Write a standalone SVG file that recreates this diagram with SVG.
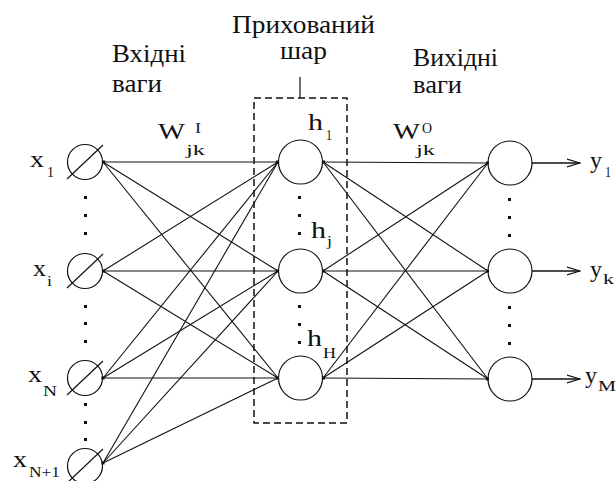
<svg xmlns="http://www.w3.org/2000/svg" width="616" height="481" viewBox="0 0 616 481" font-family="Liberation Serif, Times New Roman, serif">
  <style>
    .bg { fill: #ffffff; }
    .node { fill: none; stroke: #111; stroke-width: 1.2; }
    .slash { stroke: #111; stroke-width: 1.2; }
    .edge { stroke: #111; stroke-width: 1.1; fill: none; }
    .arrow { stroke: #111; stroke-width: 1.3; fill: none; }
    .box { fill: none; stroke: #111; stroke-width: 1.5; stroke-dasharray: 7 4; }
    .dot { fill: #111; }
    .t { fill: #111; }
    .word { font-size: 25px; }
    .lab { font-size: 23px; }
    .sub { font-size: 15px; }
  </style>
  <defs>
    <marker id="head" viewBox="0 0 14 10" refX="13" refY="5" markerWidth="14" markerHeight="10" markerUnits="userSpaceOnUse" orient="auto">
      <path d="M0,1 L13,5 L0,9" fill="none" stroke="#111" stroke-width="1.3"/>
    </marker>
  </defs>
  <rect class="bg" width="616" height="481"/>

  <!-- headings -->
  <g id="headings">
    <text class="t word" x="112" y="62" textLength="74" lengthAdjust="spacingAndGlyphs">Вхідні</text>
    <text class="t word" x="112" y="92" textLength="50" lengthAdjust="spacingAndGlyphs">ваги</text>
    <text class="t word" x="232" y="33" textLength="143" lengthAdjust="spacingAndGlyphs">Прихований</text>
    <text class="t word" x="280" y="59" textLength="47" lengthAdjust="spacingAndGlyphs">шар</text>
    <text class="t word" x="413" y="66" textLength="85" lengthAdjust="spacingAndGlyphs">Вихідні</text>
    <text class="t word" x="413" y="93" textLength="49" lengthAdjust="spacingAndGlyphs">ваги</text>
  </g>

  <!-- hidden layer frame -->
  <g id="hidden-layer">
    <rect class="box" x="254" y="98" width="93" height="325"/>
    <line class="slash" x1="300" y1="77" x2="300" y2="98"/>
  </g>

  <!-- weighted connections -->
  <g id="connectors">
    <!-- input to hidden -->
    <line class="edge" x1="103" y1="162" x2="278" y2="162"/>
    <line class="edge" x1="103" y1="162" x2="278" y2="271"/>
    <line class="edge" x1="103" y1="162" x2="278" y2="378"/>
    <line class="edge" x1="103" y1="271" x2="278" y2="162"/>
    <line class="edge" x1="103" y1="271" x2="278" y2="271"/>
    <line class="edge" x1="103" y1="271" x2="278" y2="378"/>
    <line class="edge" x1="103" y1="378" x2="278" y2="162"/>
    <line class="edge" x1="103" y1="378" x2="278" y2="271"/>
    <line class="edge" x1="103" y1="378" x2="278" y2="378"/>
    <line class="edge" x1="103" y1="463" x2="278" y2="162"/>
    <line class="edge" x1="103" y1="463" x2="278" y2="271"/>
    <line class="edge" x1="103" y1="463" x2="278" y2="378"/>
    <!-- hidden to output -->
    <line class="edge" x1="323" y1="162" x2="488" y2="163"/>
    <line class="edge" x1="323" y1="162" x2="488" y2="271"/>
    <line class="edge" x1="323" y1="162" x2="488" y2="379"/>
    <line class="edge" x1="323" y1="271" x2="488" y2="163"/>
    <line class="edge" x1="323" y1="271" x2="488" y2="271"/>
    <line class="edge" x1="323" y1="271" x2="488" y2="379"/>
    <line class="edge" x1="323" y1="378" x2="488" y2="163"/>
    <line class="edge" x1="323" y1="378" x2="488" y2="271"/>
    <line class="edge" x1="323" y1="378" x2="488" y2="379"/>
    <!-- outputs -->
    <line class="arrow" x1="532" y1="163" x2="580" y2="163" marker-end="url(#head)"/>
    <line class="arrow" x1="532" y1="271" x2="580" y2="271" marker-end="url(#head)"/>
    <line class="arrow" x1="532" y1="379" x2="580" y2="379" marker-end="url(#head)"/>
    <!-- junction points -->
    <rect class="dot" x="102" y="160.5" width="3" height="3"/>
    <rect class="dot" x="102" y="269.5" width="3" height="3"/>
    <rect class="dot" x="101.5" y="376.5" width="3" height="3"/>
    <rect class="dot" x="101.5" y="461.5" width="3" height="3"/>
    <rect class="dot" x="276" y="160.5" width="3" height="3"/>
    <rect class="dot" x="276" y="269.5" width="3" height="3"/>
    <rect class="dot" x="276" y="376.5" width="3" height="3"/>
    <rect class="dot" x="322" y="160.5" width="3" height="3"/>
    <rect class="dot" x="322" y="269.5" width="3" height="3"/>
    <rect class="dot" x="322" y="376.5" width="3" height="3"/>
    <rect class="dot" x="486" y="161.5" width="3" height="3"/>
    <rect class="dot" x="486" y="269.5" width="3" height="3"/>
    <rect class="dot" x="486" y="377.5" width="3" height="3"/>
  </g>

  <!-- weight labels -->
  <g id="weights-in">
    <text class="t lab" x="158" y="139" textLength="27" lengthAdjust="spacingAndGlyphs">W</text>
    <text class="t sub" x="195" y="133" textLength="6" lengthAdjust="spacingAndGlyphs">I</text>
    <text class="t sub" x="186" y="155" textLength="19" lengthAdjust="spacingAndGlyphs">jk</text>
  </g>
  <g id="weights-out">
    <text class="t lab" x="393" y="139" textLength="27" lengthAdjust="spacingAndGlyphs">W</text>
    <text class="t sub" x="422" y="133" textLength="10" lengthAdjust="spacingAndGlyphs">O</text>
    <text class="t sub" x="416" y="155" textLength="19" lengthAdjust="spacingAndGlyphs">jk</text>
  </g>

  <!-- input neurons -->
  <g id="x1">
    <circle class="node" cx="85" cy="162" r="17.5"/>
    <line class="slash" x1="67" y1="179" x2="103" y2="145"/>
    <text class="t lab" x="30" y="167" textLength="14" lengthAdjust="spacingAndGlyphs">x</text>
    <text class="t sub" x="47" y="177" textLength="7" lengthAdjust="spacingAndGlyphs">1</text>
  </g>
  <g id="xi">
    <circle class="node" cx="85" cy="271" r="17.5"/>
    <line class="slash" x1="67" y1="288" x2="103" y2="254"/>
    <text class="t lab" x="33" y="276" textLength="13" lengthAdjust="spacingAndGlyphs">x</text>
    <text class="t sub" x="47" y="286" textLength="5" lengthAdjust="spacingAndGlyphs">i</text>
  </g>
  <g id="xN">
    <circle class="node" cx="85" cy="378" r="17.5"/>
    <line class="slash" x1="67" y1="395" x2="103" y2="361"/>
    <text class="t lab" x="28" y="382" textLength="14" lengthAdjust="spacingAndGlyphs">x</text>
    <text class="t sub" x="43" y="396" textLength="14" lengthAdjust="spacingAndGlyphs">N</text>
  </g>
  <g id="xN1">
    <circle class="node" cx="85" cy="466" r="17.5"/>
    <line class="slash" x1="67" y1="483" x2="103" y2="449"/>
    <text class="t lab" x="13" y="467" textLength="14" lengthAdjust="spacingAndGlyphs">x</text>
    <text class="t sub" x="29" y="477" textLength="31" lengthAdjust="spacingAndGlyphs">N+1</text>
  </g>
  <g id="input-dots">
    <rect class="dot" x="84" y="196" width="3" height="3"/>
    <rect class="dot" x="84" y="214" width="3" height="3"/>
    <rect class="dot" x="84" y="232" width="3" height="3"/>
    <rect class="dot" x="84" y="305" width="3" height="3"/>
    <rect class="dot" x="84" y="322" width="3" height="3"/>
    <rect class="dot" x="84" y="340" width="3" height="3"/>
    <rect class="dot" x="84" y="403" width="3" height="3"/>
    <rect class="dot" x="84" y="421" width="3" height="3"/>
    <rect class="dot" x="84" y="438" width="3" height="3"/>
  </g>

  <!-- hidden neurons -->
  <g id="h1">
    <circle class="node" cx="300.5" cy="162" r="22"/>
    <text class="t lab" x="308" y="130" textLength="15" lengthAdjust="spacingAndGlyphs">h</text>
    <text class="t sub" x="326" y="140" textLength="6" lengthAdjust="spacingAndGlyphs">1</text>
  </g>
  <g id="hj">
    <circle class="node" cx="300.5" cy="271" r="22"/>
    <text class="t lab" x="311" y="238" textLength="15" lengthAdjust="spacingAndGlyphs">h</text>
    <text class="t sub" x="327" y="246" textLength="5" lengthAdjust="spacingAndGlyphs">j</text>
  </g>
  <g id="hH">
    <circle class="node" cx="300.5" cy="378" r="22"/>
    <text class="t lab" x="307" y="346" textLength="15" lengthAdjust="spacingAndGlyphs">h</text>
    <text class="t sub" x="323" y="358" textLength="13" lengthAdjust="spacingAndGlyphs">H</text>
  </g>
  <g id="hidden-dots">
    <rect class="dot" x="298" y="196" width="3" height="3"/>
    <rect class="dot" x="298" y="214" width="3" height="3"/>
    <rect class="dot" x="298" y="232" width="3" height="3"/>
    <rect class="dot" x="298" y="305" width="3" height="3"/>
    <rect class="dot" x="298" y="323" width="3" height="3"/>
    <rect class="dot" x="298" y="341" width="3" height="3"/>
  </g>

  <!-- output neurons -->
  <g id="y1">
    <circle class="node" cx="510" cy="163" r="22"/>
    <text class="t lab" x="590" y="168" textLength="12" lengthAdjust="spacingAndGlyphs">y</text>
    <text class="t sub" x="605" y="177" textLength="6" lengthAdjust="spacingAndGlyphs">1</text>
  </g>
  <g id="yk">
    <circle class="node" cx="510" cy="271" r="22"/>
    <text class="t lab" x="590" y="277" textLength="12" lengthAdjust="spacingAndGlyphs">y</text>
    <text class="t sub" x="603" y="284" textLength="11" lengthAdjust="spacingAndGlyphs">k</text>
  </g>
  <g id="yM">
    <circle class="node" cx="510" cy="379" r="22"/>
    <text class="t lab" x="585" y="383" textLength="12" lengthAdjust="spacingAndGlyphs">y</text>
    <text class="t sub" x="598" y="391" textLength="18" lengthAdjust="spacingAndGlyphs">M</text>
  </g>
  <g id="output-dots">
    <rect class="dot" x="508" y="198" width="3" height="3"/>
    <rect class="dot" x="508" y="216" width="3" height="3"/>
    <rect class="dot" x="508" y="234" width="3" height="3"/>
    <rect class="dot" x="508" y="306" width="3" height="3"/>
    <rect class="dot" x="508" y="324" width="3" height="3"/>
    <rect class="dot" x="508" y="342" width="3" height="3"/>
  </g>
</svg>
